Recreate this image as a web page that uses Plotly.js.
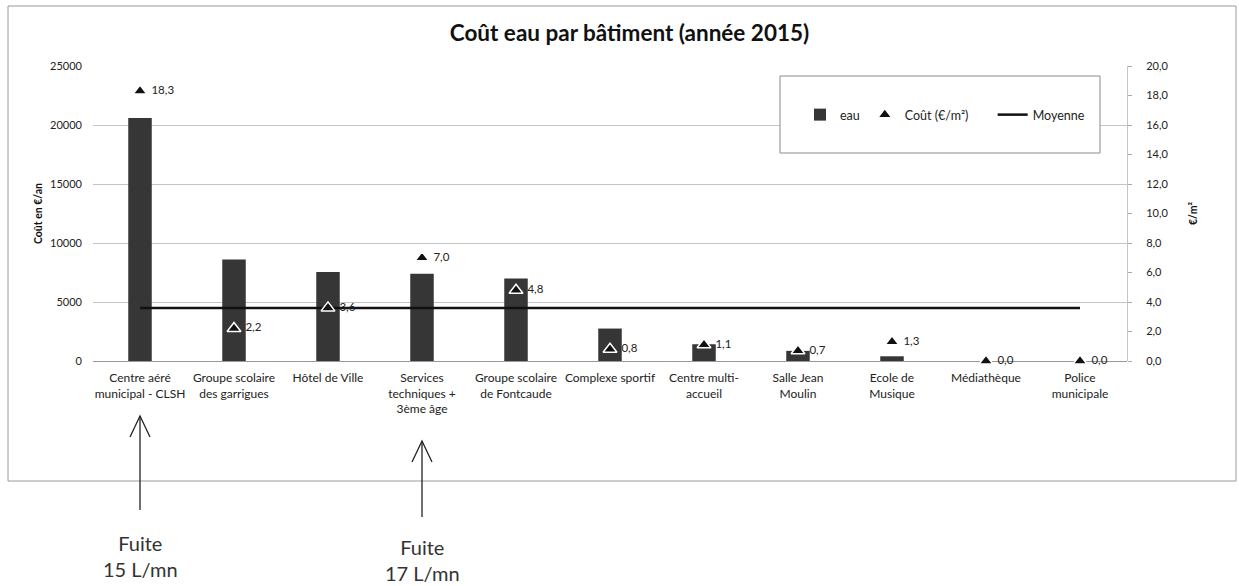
<!DOCTYPE html>
<html><head><meta charset="utf-8">
<script src="https://cdn.plot.ly/plotly-3.0.1.min.js"></script>
<style>html,body{margin:0;padding:0;background:#fff}#chart{width:1239px;height:586px}</style>
</head><body><div id="chart"></div>
<script>
const categories = ["Centre aéré<br>municipal - CLSH","Groupe scolaire<br>des garrigues","Hôtel de Ville","Services<br>techniques +<br>3ème âge","Groupe scolaire<br>de Fontcaude","Complexe sportif","Centre multi-<br>accueil","Salle Jean<br>Moulin","Ecole de<br>Musique","Médiathèque","Police<br>municipale"];
const eau = [20600, 8600, 7550, 7400, 7000, 2750, 1420, 860, 400, 0, 0];
const coutM2 = [18.3, 2.2, 3.6, 7.0, 4.8, 0.8, 1.1, 0.7, 1.3, 0.0, 0.0];
const moyenne = [3.6, 3.6, 3.6, 3.6, 3.6, 3.6, 3.6, 3.6, 3.6, 3.6, 3.6];
const leftTicks = [0, 5000, 10000, 15000, 20000, 25000];
const rightTicks = [0, 2, 4, 6, 8, 10, 12, 14, 16, 18, 20];
const fuites = [{cat: 0, text: "Fuite<br>15 L/mn"}, {cat: 3, text: "Fuite<br>17 L/mn"}];

const FONT = "Lato, 'Open Sans', sans-serif";
const fr = v => v.toFixed(1).replace('.', ',');
const NB = '\u00a0';

const traces = [
  {type:'bar', name:'eau', x:categories, y:eau, marker:{color:'#363636'}, width:0.25, yaxis:'y', legendrank:1},
  {type:'scatter', mode:'lines', name:'Moyenne', x:categories, y:moyenne, yaxis:'y2', line:{color:'#111', width:2.5}, legendrank:3},
  {type:'scatter', mode:'markers+text', name:'Coût (€/m²)' + NB.repeat(6), x:categories, y:coutM2, yaxis:'y2', legendrank:2,
   marker:{symbol:'triangle-up', size:12, color:'#111', line:{color:'#fff', width:1.5}},
   text:coutM2.map(v => NB + fr(v)), textposition:'middle right', textfont:{size:11.5, color:'#222', family:FONT}, cliponaxis:false}
];

const PL = 93, PR = 1127, PT = 66, PB = 361;
const W = PR - PL, H = PB - PT;
const px = x => (x - PL) / W;
const py = y => (PB - y) / H;

const shapes = [
  {type:'rect', xref:'paper', yref:'paper', x0:px(8), x1:px(1236), y0:py(481), y1:py(6), line:{color:'#9a9a9a', width:1}, layer:'below'},
  {type:'rect', xref:'paper', yref:'paper', x0:px(780), x1:px(1100), y0:py(153), y1:py(76), fillcolor:'#fff', line:{color:'#8a8a8a', width:1}, layer:'above'}
];
const apexY = [416, 441], tailY = [510, 517];
fuites.forEach((f, i) => {
  shapes.push({type:'line', xref:'x', yref:'paper', x0:categories[f.cat], x1:categories[f.cat], y0:py(apexY[i]), y1:py(tailY[i]), line:{color:'#222', width:1.3}});
  shapes.push({type:'path', xref:'x', yref:'paper', xsizemode:'pixel', ysizemode:'pixel', xanchor:f.cat, yanchor:py(apexY[i]), path:'M-10,-21 L0,0 L10,-21', line:{color:'#222', width:1.3}});
});
const textY = [556, 560];
const annotations = fuites.map((f, i) => ({xref:'x', yref:'paper', x:categories[f.cat], y:py(textY[i]), text:f.text, showarrow:false, font:{family:FONT, size:20, color:'#333'}, yanchor:'middle'}));

const layout = {
  width:1239, height:586,
  margin:{l:PL, r:1239-PR, t:PT, b:586-PB},
  paper_bgcolor:'#fff', plot_bgcolor:'#fff',
  font:{family:FONT, color:'#222', size:11},
  separators:', ',
  title:{text:'<b>Coût eau par bâtiment (année 2015)</b>', x:629.5/1239, xanchor:'center', xref:'container', y:1-33/586, yref:'container', yanchor:'middle', font:{family:FONT, size:22.5, color:'#111'}},
  showlegend:true,
  legend:{orientation:'h', x:px(800), xanchor:'left', y:py(115), yanchor:'middle', bgcolor:'rgba(0,0,0,0)', borderwidth:0, font:{family:FONT, size:12.5, color:'#222'}, traceorder:'normal'},
  bargap:0.75,
  xaxis:{type:'category', range:[-0.5, categories.length - 0.5], autorange:false, automargin:false, tickangle:0, tickfont:{size:12, color:'#222'}, showgrid:false, showline:false, ticks:'', zeroline:false, ticklabelstandoff:8},
  yaxis:{automargin:false, range:[0,25000], tickvals:leftTicks, tickformat:'d', showgrid:true, gridcolor:'#c4c4c4', gridwidth:1, zeroline:true, zerolinecolor:'#999', zerolinewidth:1, showline:false, ticks:'', ticklabelstandoff:10, tickfont:{size:11, color:'#222'},
    title:{text:'<b>Coût en €/an</b>', font:{size:10.5, color:'#111'}, standoff:5}},
  yaxis2:{automargin:false, overlaying:'y', side:'right', range:[0,20], tickvals:rightTicks, tickformat:'.1f', showgrid:false, zeroline:false, showline:true, linecolor:'#c4c4c4', ticks:'outside', ticklen:4, tickcolor:'#aaa', ticklabelstandoff:12, tickfont:{size:11, color:'#222'},
    title:{text:'<b>€/m²</b>', font:{size:10.5, color:'#111'}, standoff:22}},
  shapes, annotations
};
Plotly.newPlot('chart', traces, layout, {displayModeBar:false, staticPlot:true});
</script></body></html>
